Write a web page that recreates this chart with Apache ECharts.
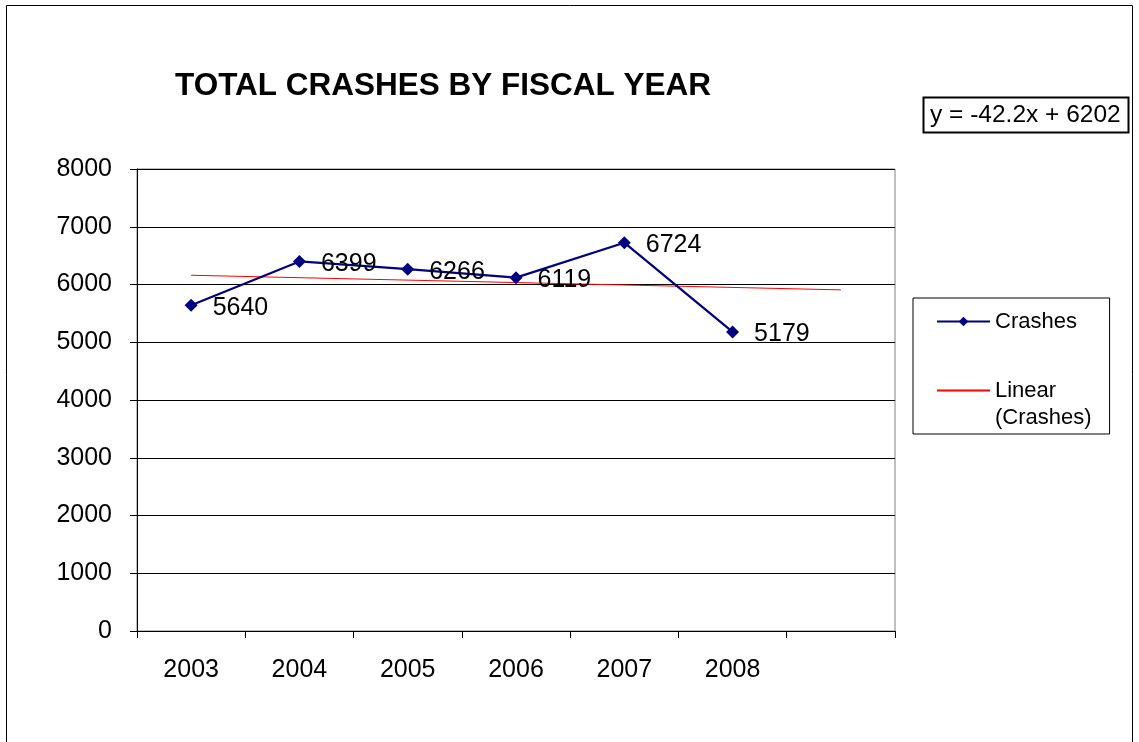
<!DOCTYPE html>
<html>
<head>
<meta charset="utf-8">
<script src="https://cdn.jsdelivr.net/npm/echarts@6/dist/echarts.min.js"></script>
<style>
html,body{margin:0;padding:0;background:#fff;}
#c{width:1139px;height:742px;}
</style>
</head>
<body>
<div id="c"></div>
<script>
const years = ['2003', '2004', '2005', '2006', '2007', '2008', ''];
const crashes = [5640, 6399, 6266, 6119, 6724, 5179, null];
// Linear trendline endpoints (y = -42.2x + 6202)
const trend = [6160, null, null, null, null, null, 5907];
const yTicks = [0, 1000, 2000, 3000, 4000, 5000, 6000, 7000, 8000];
const titleText = 'TOTAL CRASHES BY FISCAL YEAR';
const equationText = 'y = -42.2x + 6202';

const chart = echarts.init(document.getElementById('c'));
const font = 'Liberation Sans, Arial, sans-serif';
chart.setOption({
  animation: false,
  backgroundColor: '#fff',
  textStyle: { fontFamily: font },
  title: {
    text: titleText,
    left: 170, top: 65,
    textStyle: { fontSize: 31.5, fontWeight: 'bold', color: '#000', fontFamily: font }
  },
  graphic: [
    { type: 'rect', shape: { x: 6.5, y: 5.5, width: 1126, height: 760 },
      style: { fill: null, stroke: '#000', lineWidth: 1 }, silent: true, z: -1 },
    { type: 'rect', shape: { x: 923.5, y: 97.5, width: 205, height: 35 },
      style: { fill: '#fff', stroke: '#000', lineWidth: 2 } },
    { type: 'text', left: 930, top: 103,
      style: { text: equationText, fontSize: 24.5, fill: '#000', fontFamily: font } }
  ],
  legend: {
    orient: 'vertical',
    left: 913, top: 298,
    padding: [10, 18, 3, 23],
    backgroundColor: '#fff',
    borderColor: '#000',
    borderWidth: 1,
    itemWidth: 53, itemHeight: 12,
    itemGap: 15,
    textStyle: { fontSize: 22, color: '#000', fontFamily: font, lineHeight: 27 },
    formatter: function (name) {
      return name === 'Crashes' ? 'Crashes' : '\nLinear\n(Crashes)';
    },
    data: [
      { name: 'Crashes' },
      { name: 'Linear (Crashes)', itemStyle: { opacity: 0 } }
    ]
  },
  grid: {
    left: 137, right: 1139 - 895, top: 169, bottom: 742 - 631,
    show: true, borderColor: '#808080', borderWidth: 1
  },
  xAxis: {
    type: 'category',
    data: years,
    boundaryGap: true,
    axisLine: { lineStyle: { color: '#000', width: 1 } },
    axisTick: { show: true, alignWithLabel: false, length: 7, lineStyle: { color: '#000' } },
    axisLabel: { fontSize: 25, color: '#000', margin: 27, fontFamily: font },
    splitLine: { show: false }
  },
  yAxis: {
    type: 'value',
    min: yTicks[0], max: yTicks[yTicks.length - 1], interval: 1000,
    axisLine: { show: true, lineStyle: { color: '#000', width: 1 } },
    axisTick: { show: true, length: 7, lineStyle: { color: '#000' } },
    axisLabel: { fontSize: 25, color: '#000', margin: 25, fontFamily: font,
      formatter: function (v) { return String(v); } },
    splitLine: { show: true, lineStyle: { color: '#000', width: 1 } }
  },
  series: [
    {
      name: 'Crashes',
      type: 'line',
      data: crashes,
      color: '#000080',
      lineStyle: { color: '#000080', width: 2.2 },
      itemStyle: { color: '#000080' },
      symbol: 'diamond',
      symbolSize: 13,
      label: {
        show: true, position: 'right', distance: 15,
        fontSize: 25, color: '#000', fontFamily: font,
        offset: [0, 2.5]
      },
      z: 3
    },
    {
      name: 'Linear (Crashes)',
      type: 'line',
      data: trend,
      connectNulls: true,
      color: '#ff0000',
      lineStyle: { color: '#ff0000', width: 1 },
      symbol: 'none',
      z: 2
    }
  ]
});
</script>
</body>
</html>
